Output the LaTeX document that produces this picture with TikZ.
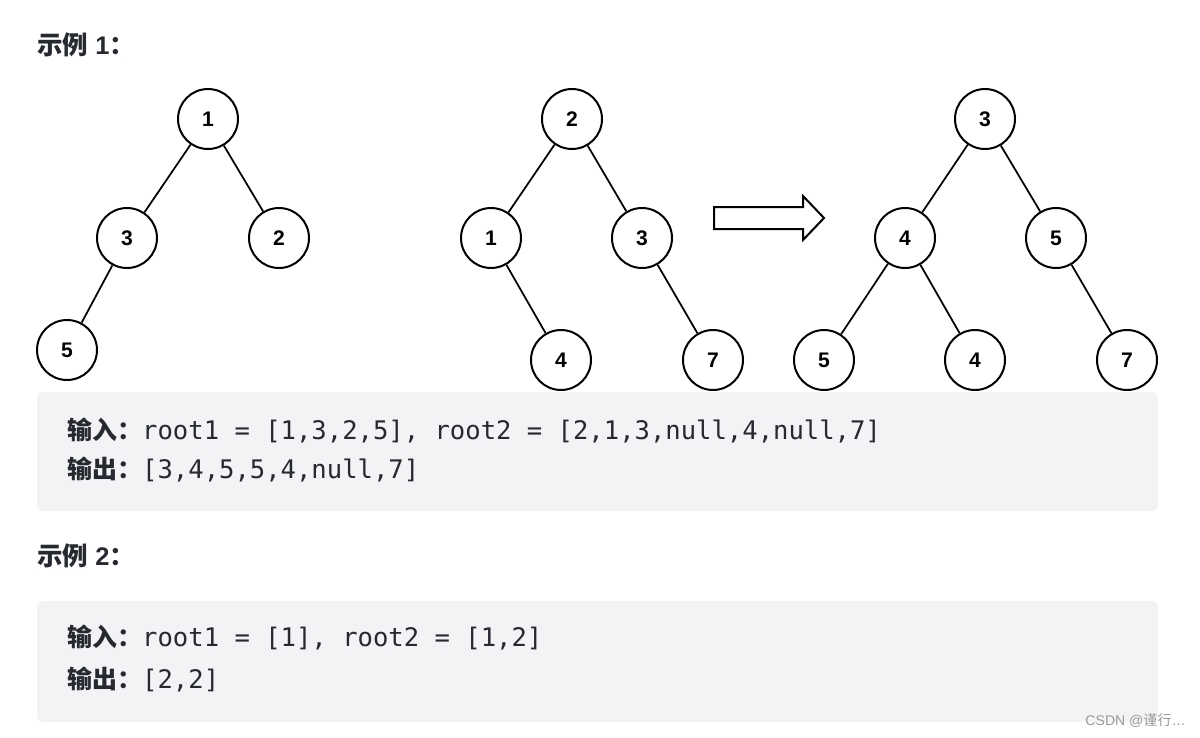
\documentclass[tikz,border=0pt]{standalone}
\usepackage{fontspec}
\setmainfont{Liberation Sans}
\setmonofont{DejaVu Sans Mono}
\newfontfamily\cjk{Noto Sans CJK SC}
\definecolor{codebg}{HTML}{F3F3F5}
\definecolor{textdark}{HTML}{262A30}
\definecolor{markgray}{HTML}{9A9A9A}
\newcommand{\codetxt}[1]{{\ttfamily\fontsize{14.55}{15}\selectfont #1}}

\begin{document}
\begin{tikzpicture}[x=0.02cm,y=-0.02cm]
    \tikzset{
        vertex/.style={draw, circle, line width=0.04cm, minimum size=1.2cm, inner sep=0pt, font=\fontsize{12}{12}\selectfont\bfseries},
        arc/.style={line width=0.035cm},
        codebox/.style={fill=codebg, rounded corners=0.1cm},
        codeline/.style={anchor=west, inner sep=0pt, text=textdark, font=\fontsize{14.2}{15}\selectfont},
        heading/.style={anchor=west, inner sep=0pt, text=textdark, font=\fontsize{14.5}{15}\selectfont\bfseries}
    }
    \useasboundingbox (0,0) rectangle (1200,737);

    % example 1
    \node[heading] (ex1) at (37,45) {{\cjk 示例} \textbf{1}{\cjk ：}};

    % tree 1
    \draw node[vertex] (a1) at (208,119) {1};
    \draw node[vertex] (a3) at (127,238) {3};
    \draw node[vertex] (a2) at (279,238) {2};
    \draw node[vertex] (a5) at (67,350) {5};

    % tree 2
    \draw node[vertex] (b2) at (572,119) {2};
    \draw node[vertex] (b1) at (491,238) {1};
    \draw node[vertex] (b3) at (642,238) {3};
    \draw node[vertex] (b4) at (561,360) {4};
    \draw node[vertex] (b7) at (713,360) {7};

    % merged tree
    \draw node[vertex] (c3) at (985,119) {3};
    \draw node[vertex] (c4) at (905,238) {4};
    \draw node[vertex] (c5) at (1056,238) {5};
    \draw node[vertex] (c5l) at (824,360) {5};
    \draw node[vertex] (c4r) at (975,360) {4};
    \draw node[vertex] (c7) at (1127,360) {7};

    \foreach \x/\y in {%
        a1/a3,a1/a2,a3/a5,b2/b1,b2/b3,b1/b4,b3/b7,c3/c4,c3/c5,c4/c5l,c4/c4r,c5/c7%
    }{
        \draw[arc] (\x) -- (\y);
    }

    % merge arrow
    \draw[line width=0.04cm, line join=miter] (714,207) -- (803,207) -- (803,196) -- (824,218)
        -- (803,240) -- (803,229) -- (714,229) -- cycle;

    \fill[codebox] (37,392) rectangle (1158,511);
    \node[codeline] (in1) at (67,431) {{\cjk\bfseries 输入：}\codetxt{root1 = [1,3,2,5], root2 = [2,1,3,null,4,null,7]}};
    \node[codeline] (out1) at (67,470) {{\cjk\bfseries 输出：}\codetxt{[3,4,5,5,4,null,7]}};

    % example 2
    \node[heading] (ex2) at (37,556) {{\cjk 示例} \textbf{2}{\cjk ：}};
    \fill[codebox] (37,601) rectangle (1158,722);
    \node[codeline] (in2) at (67,638) {{\cjk\bfseries 输入：}\codetxt{root1 = [1], root2 = [1,2]}};
    \node[codeline] (out2) at (67,680) {{\cjk\bfseries 输出：}\codetxt{[2,2]}};

    \node[anchor=east, inner sep=0pt, text=markgray, font=\fontsize{8}{9}\selectfont] (mark) at (1186,721) {CSDN @{\cjk 谨行}…};
\end{tikzpicture}
\end{document}
